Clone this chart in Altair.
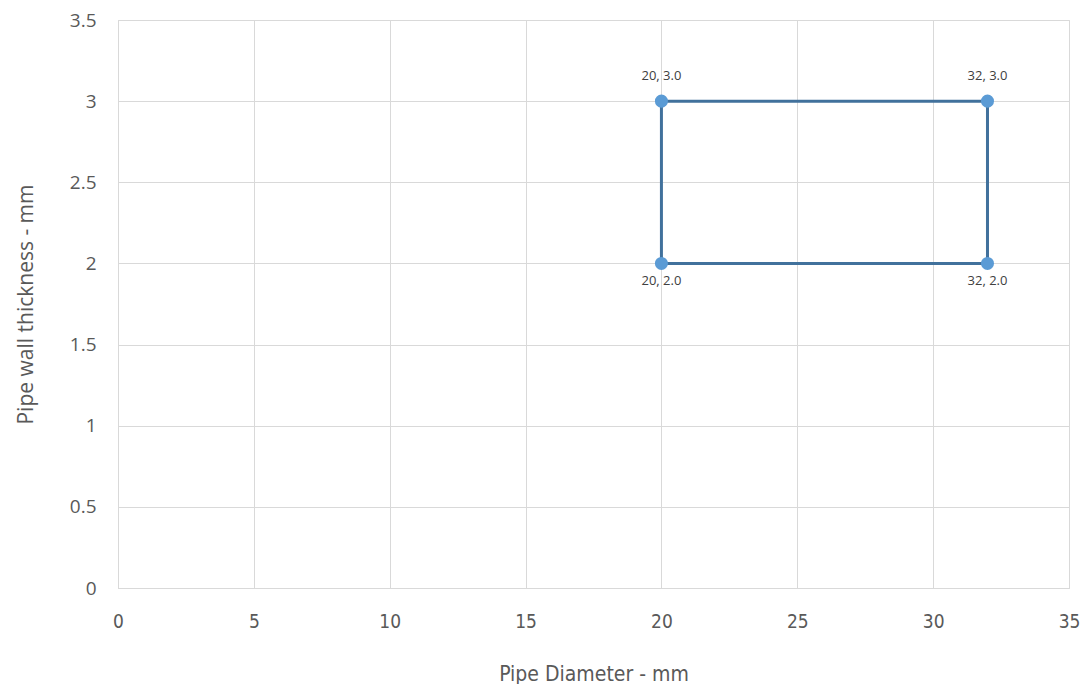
import altair as alt
import pandas as pd

# data
diameters = [20, 32, 32, 20, 20]
thickness = [3.0, 3.0, 2.0, 2.0, 3.0]
order = [0, 1, 2, 3, 4]

pt_x = [20, 32, 20, 32]
pt_y = [3.0, 3.0, 2.0, 2.0]
pt_label = ["20, 3.0", "32, 3.0", "20, 2.0", "32, 2.0"]
pt_pos = ["above", "above", "below", "below"]

line_df = pd.DataFrame({"d": diameters, "t": thickness, "o": order})
pt_df = pd.DataFrame({"d": pt_x, "t": pt_y, "label": pt_label, "pos": pt_pos})

grey = "#595959"
narrow = "DejaVu Sans Condensed, Liberation Sans Narrow, Open Sans, sans-serif"
xscale = alt.Scale(domain=[0, 35], nice=False, zero=True)
yscale = alt.Scale(domain=[0, 3.5], nice=False, zero=True)

xaxis = alt.Axis(title="Pipe Diameter - mm", values=[0, 5, 10, 15, 20, 25, 30, 35],
                 labelFont=narrow, labelFontSize=19, labelColor=grey, labelFlush=False,
                 labelPadding=24, titleFont=narrow, titleFontSize=21,
                 titleColor=grey, titleFontWeight="normal", titlePadding=32,
                 ticks=False, gridColor="#d9d9d9", domainColor="#d9d9d9")
yaxis = alt.Axis(title="Pipe wall thickness - mm", values=[0, 0.5, 1, 1.5, 2, 2.5, 3, 3.5],
                 format="~g", labelFlush=False,
                 labelFont="Open Sans", labelFontSize=19, labelColor=grey,
                 labelPadding=22, titleFont="Open Sans", titleFontSize=21,
                 titleColor=grey, titleFontWeight="normal", titlePadding=33,
                 ticks=False, gridColor="#d9d9d9", domainColor="#d9d9d9")

line = alt.Chart(line_df).mark_line(color="#41719C", strokeWidth=3).encode(
    x=alt.X("d:Q", scale=xscale, axis=xaxis),
    y=alt.Y("t:Q", scale=yscale, axis=yaxis),
    order="o:Q",
)

pts = alt.Chart(pt_df).mark_circle(size=170, color="#5B9BD5", opacity=1).encode(
    x=alt.X("d:Q", scale=xscale),
    y=alt.Y("t:Q", scale=yscale),
)

above = alt.Chart(pt_df).transform_filter(alt.datum.pos == "above").mark_text(
    dy=-25, font="Open Sans", fontSize=13, color="#404040").encode(
    x=alt.X("d:Q", scale=xscale), y=alt.Y("t:Q", scale=yscale), text="label:N")
below = alt.Chart(pt_df).transform_filter(alt.datum.pos == "below").mark_text(
    dy=18, font="Open Sans", fontSize=13, color="#404040").encode(
    x=alt.X("d:Q", scale=xscale), y=alt.Y("t:Q", scale=yscale), text="label:N")

chart = alt.layer(line, pts, above, below).properties(
    width=951, height=568,
    autosize=alt.AutoSizeParams(type="none"),
    padding={"left": 110, "top": 12, "right": 12, "bottom": 96},
).configure_view(stroke=None).configure(background="white")

chart.save("out.html", embed_options={"renderer": "svg", "actions": False})
